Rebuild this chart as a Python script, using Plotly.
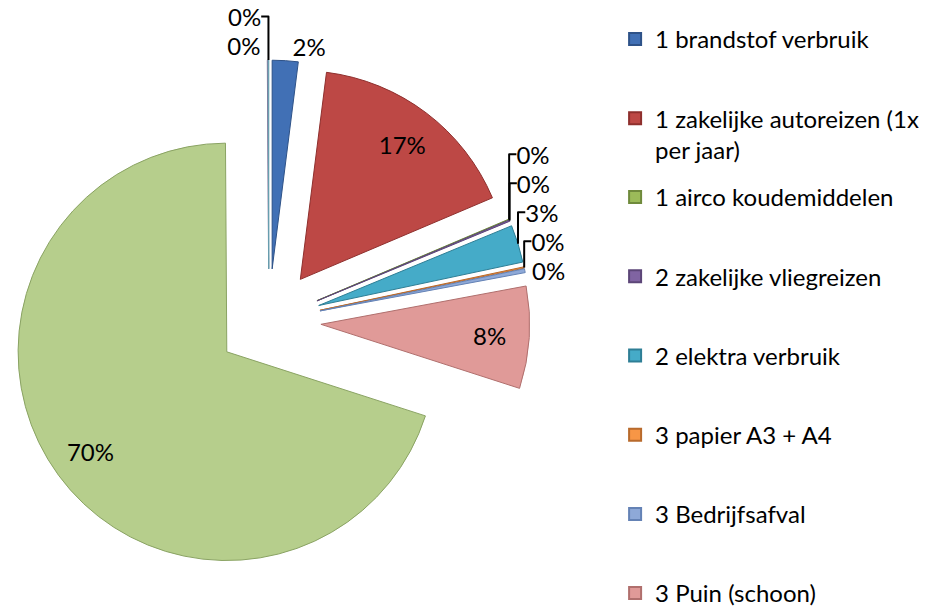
import plotly.graph_objects as go

# ---- data ----
categories = [
    "1 brandstof verbruik",
    "1 zakelijke autoreizen (1x per jaar)",
    "1 airco koudemiddelen",
    "2 zakelijke vliegreizen",
    "2 elektra verbruik",
    "3 papier A3 + A4",
    "3 Bedrijfsafval",
    "3 Puin (schoon)",
    "Overig 1",
    "Overig 2",
    "Overig 3",
]
values = [2.0, 16.6, 0.05, 0.1, 2.9, 0.1, 0.3, 7.9, 69.9, 0.05, 0.05]
legend_names = [
    "1 brandstof verbruik",
    "1 zakelijke autoreizen (1x<br>per jaar)",
    "1 airco koudemiddelen",
    "2 zakelijke vliegreizen",
    "2 elektra verbruik",
    "3 papier A3 + A4",
    "3 Bedrijfsafval",
    "3 Puin (schoon)",
]

# ---- styles ----
colors = ["#4170B5", "#BD4845", "#9BBB59", "#8064A2", "#45ABC8", "#F79646",
          "#8EA9D8", "#E09A98", "#B6CE8C", "#B3A2C7", "#93CDDD"]
edge = ["#2E5288", "#8E2F2D", "#6F8A3C", "#5C4678", "#2E7E95", "#B86A2C",
        "#6482B5", "#B06F6D", "#8AA363", "#86759C", "#669FAF"]
inside_label = [False, True, False, False, False, False, False, True, True, False, False]
FONT = "Lato"
DOMAIN = dict(x=[0.0, 0.5586], y=[0.0607, 0.9198])
PULL = [0.25] * len(values)

fig = go.Figure()
# main exploded pie, small slices labelled outside
fig.add_trace(go.Pie(
    labels=categories,
    values=values,
    sort=False,
    direction="clockwise",
    rotation=0,
    pull=PULL,
    marker=dict(colors=colors, line=dict(color=edge, width=1)),
    texttemplate="%{percent:.0%}",
    textposition=["none" if f else "outside" for f in inside_label],
    textfont=dict(family=FONT, size=24, color="#000000"),
    showlegend=False,
    automargin=False,
    domain=DOMAIN,
    hoverinfo="label+percent",
))
# transparent ring overlay: places the large-slice labels near the rim
fig.add_trace(go.Pie(
    labels=categories,
    values=values,
    sort=False,
    direction="clockwise",
    rotation=0,
    pull=PULL,
    hole=0.62,
    marker=dict(colors=["rgba(0,0,0,0)"] * len(values),
                line=dict(color="rgba(0,0,0,0)", width=0)),
    texttemplate="%{percent:.0%}",
    textposition=["inside" if f else "none" for f in inside_label],
    insidetextorientation="horizontal",
    textfont=dict(family=FONT, size=24, color="#000000"),
    showlegend=False,
    automargin=False,
    domain=DOMAIN,
    hoverinfo="skip",
))

for i, name in enumerate(legend_names):
    fig.add_trace(go.Scatter(
        x=[None], y=[None], mode="markers", name=name,
        marker=dict(symbol="square", size=13, color=colors[i],
                    line=dict(color=edge[i], width=1)),
        legend="legend" if i < 2 else "legend2",
        legendgroup=str(i),
        hoverinfo="skip",
    ))

legend_common = dict(
    font=dict(family=FONT, size=24, color="#000000"),
    bgcolor="rgba(0,0,0,0)",
    tracegroupgap=45,
    valign="top",
    itemsizing="constant",
    xanchor="left",
    yanchor="top",
    x=0.650,
)

fig.update_layout(
    width=934, height=614,
    margin=dict(l=0, r=0, t=0, b=0, autoexpand=False),
    paper_bgcolor="white",
    plot_bgcolor="white",
    xaxis=dict(visible=False),
    yaxis=dict(visible=False),
    legend=dict(**legend_common, y=1 - 9 / 614),
    legend2=dict(**legend_common, y=1 - 167 / 614),
)

fig.write_html("out.html")
